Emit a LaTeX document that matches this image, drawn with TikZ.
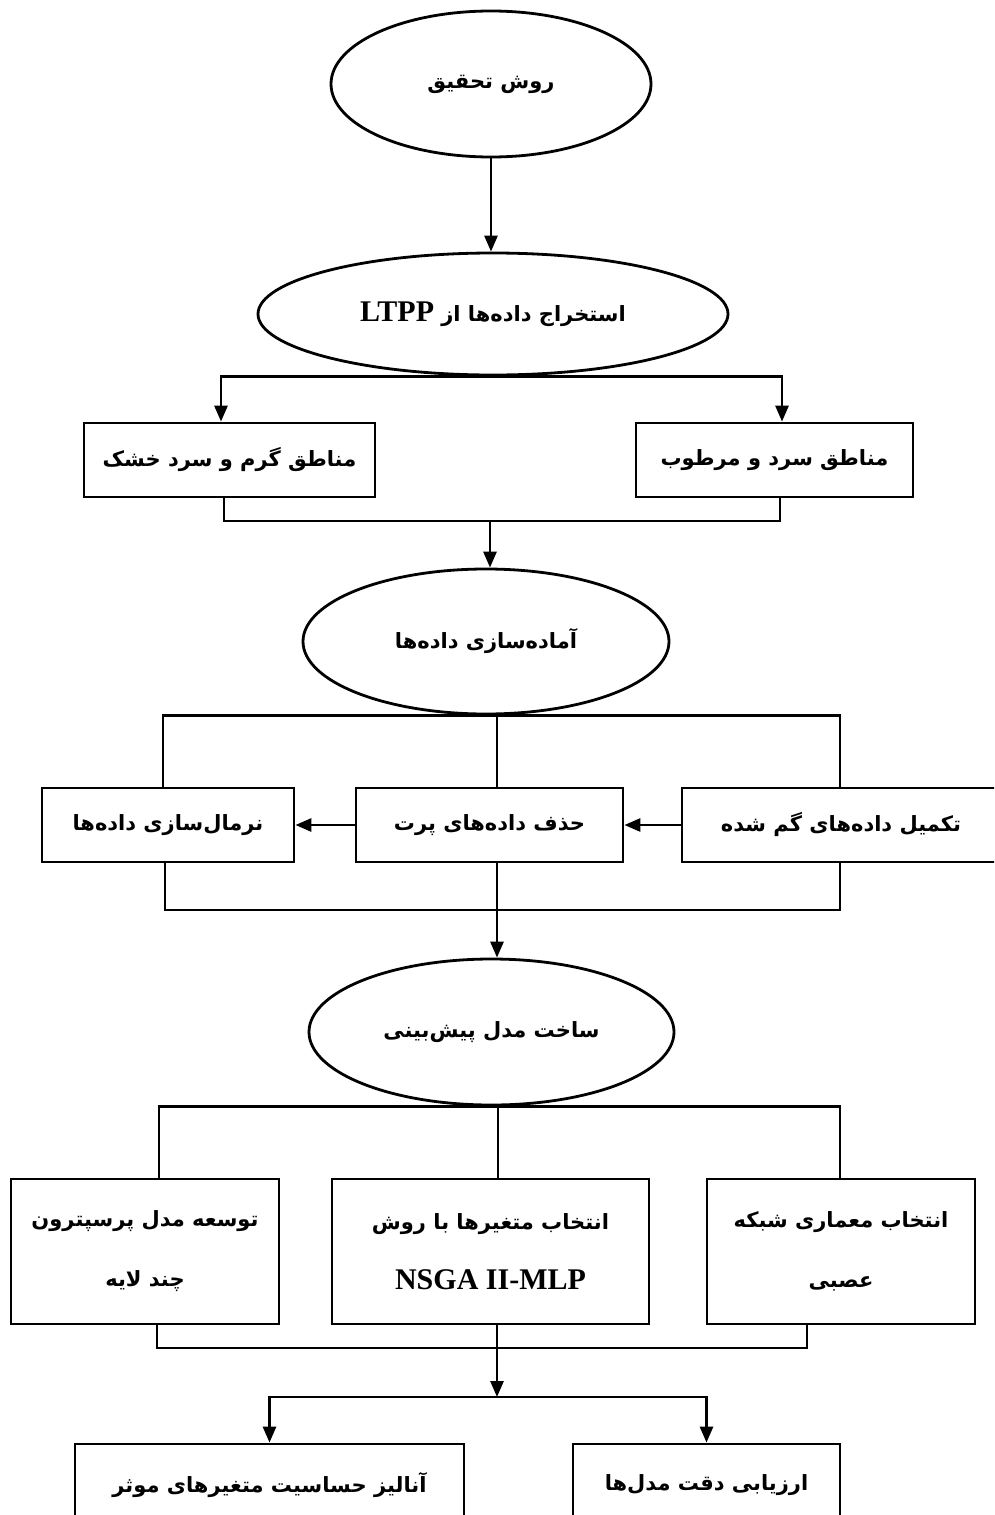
\documentclass[tikz,border=0pt]{standalone}
\usepackage{fontspec}
\usetikzlibrary{shapes.geometric,arrows.meta}
\TeXXeTstate=1
\newfontfamily\arabicfont[Script=Arabic]{DejaVu Sans}
\newfontfamily\latinfont{Liberation Serif}
\newcommand\faT[1]{{\arabicfont\bfseries\beginR #1\endR}}
\newcommand\laT[1]{{\latinfont\bfseries\fontsize{30}{60}\selectfont #1}}
\begin{document}
\begin{tikzpicture}[x=1pt,y=-1pt,
  ln/.style={line width=2.8pt},
  arr/.style={ln,-{Triangle[length=16pt,width=13pt]}},
  oval/.style={ellipse,draw,line width=2.8pt,inner sep=0pt},
  rbox/.style={rectangle,draw,line width=2.8pt,inner sep=0pt,align=center},
  font=\fontsize{21}{60}\selectfont]
\useasboundingbox (0,0) rectangle (994,1515);
\clip (0,0) rectangle (994,1515);

% ellipses
\node[oval,minimum width=320pt,minimum height=146pt] (e1) at (491,84) {\faT{روش تحقیق}};
\node[oval,minimum width=470pt,minimum height=122pt] (e2) at (493,314) {\faT{استخراج داده‌ها از \beginL\laT{LTPP}\endL}};
\node[oval,minimum width=366pt,minimum height=145pt] (e3) at (486,641.5) {\faT{آماده‌سازی داده‌ها}};
\node[oval,minimum width=365pt,minimum height=146pt] (e4) at (491.5,1032) {\faT{ساخت مدل پیش‌بینی}};

% row 1
\node[rbox,minimum width=291pt,minimum height=74pt] (A) at (229.5,460) {\faT{مناطق گرم و سرد خشک}};
\node[rbox,minimum width=277pt,minimum height=74pt] (B) at (774.5,460) {\faT{مناطق سرد و مرطوب}};

% row 2
\node[rbox,minimum width=252pt,minimum height=74pt] (L2) at (168,825) {\faT{نرمال‌سازی داده‌ها}};
\node[rbox,minimum width=267pt,minimum height=74pt] (M2) at (489.5,825) {\faT{حذف داده‌های پرت}};
\node[rbox,minimum width=318pt,minimum height=74pt] (R2) at (841,825) {\faT{تکمیل داده‌های گم شده}};

% row 3
\node[rbox,minimum width=268pt,minimum height=145pt] (L3) at (145,1251.5) {\faT{توسعه مدل پرسپترون}\\\faT{چند لایه}};
\node[rbox,minimum width=317pt,minimum height=145pt] (M3) at (490.5,1251.5) {\faT{انتخاب متغیرها با روش}\\\laT{NSGA II-MLP}};
\node[rbox,minimum width=268pt,minimum height=145pt] (R3) at (841,1251.5) {\faT{انتخاب معماری شبکه}\\\faT{عصبی}};

% row 4
\node[rbox,minimum width=389pt,minimum height=82pt] (L4) at (269.5,1485) {\faT{آنالیز حساسیت متغیرهای موثر}};
\node[rbox,minimum width=267pt,minimum height=82pt] (R4) at (706.5,1485) {\faT{ارزیابی دقت مدل‌ها}};

% junction coordinates
\coordinate (m1) at (490,521);
\coordinate (m2) at (497,910);
\coordinate (m3) at (497,1348);
\coordinate (m4) at (497,1397);

% connectors
\draw[arr] (e1.south) -- (e1.south |- e2.north);
\draw[arr] (e2.south) -| ([xshift=-8.5pt]A.north);
\draw[arr] (e2.south) -| ([xshift=7.5pt]B.north);
\draw[ln] ([xshift=-5.5pt]A.south) |- (m1) -| ([xshift=5.5pt]B.south);
\draw[arr] (m1) -- (m1 |- e3.north);

\draw[ln] ([xshift=-5pt]L2.north) |- ([xshift=-1pt]R2.north |- e3.south) -- ([xshift=-1pt]R2.north);
\draw[ln] ([xshift=7.5pt]M2.north) -- ([xshift=7.5pt]M2.north |- e3.south);
\draw[arr] (R2.west) -- (M2.east);
\draw[arr] (M2.west) -- (L2.east);
\draw[ln] ([xshift=-3pt]L2.south) |- (m2) -| ([xshift=-1pt]R2.south);
\draw[ln] ([xshift=7.5pt]M2.south) -- (m2);
\draw[arr] (m2) -- (m2 |- e4.north);

\draw[ln] ([xshift=14pt]L3.north) |- ([xshift=-1pt]R3.north |- e4.south) -- ([xshift=-1pt]R3.north);
\draw[ln] ([xshift=7.5pt]M3.north) -- ([xshift=7.5pt]M3.north |- e4.south);
\draw[ln] ([xshift=12pt]L3.south) |- (m3) -| ([xshift=-34pt]R3.south);
\draw[ln] ([xshift=6.5pt]M3.south) -- (m3);
\draw[arr] (m3) -- (m4);
\draw[arr] (m4) -| (L4.north);
\draw[arr] (m4) -| (R4.north);
\end{tikzpicture}
\end{document}
